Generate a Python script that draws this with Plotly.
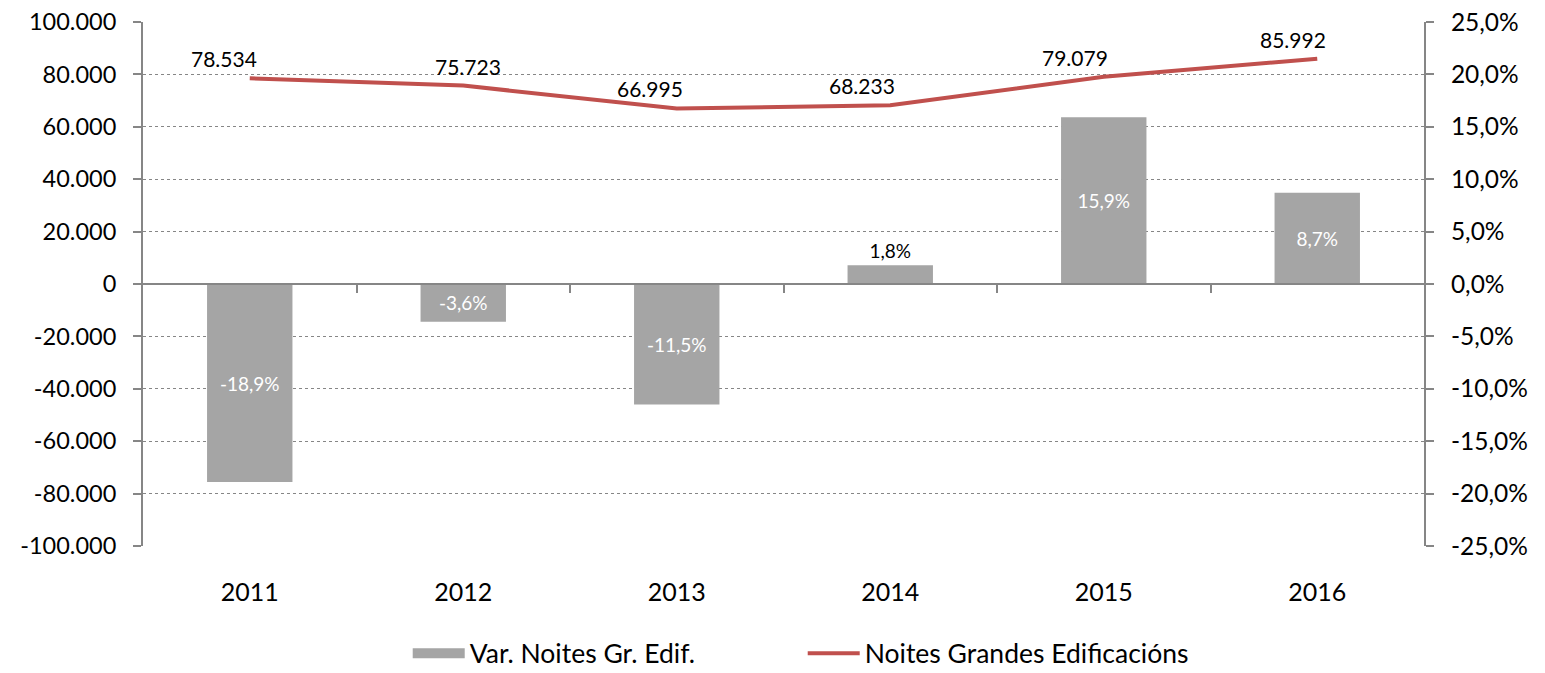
import plotly.graph_objects as go

years = ["2011", "2012", "2013", "2014", "2015", "2016"]
var_pct = [-0.189, -0.036, -0.115, 0.018, 0.159, 0.087]
noites = [78534, 75723, 66995, 68233, 79079, 85992]

left_ticks = list(range(-100000, 100001, 20000))
right_ticks = [v / 100 for v in range(-25, 26, 5)]

# style
label_xshift = [-26, 5, -27, -28, -29, -24]
bar_textpos = ["inside", "inside", "inside", "outside", "inside", "inside"]
bar_textcol = ["white", "white", "white", "black", "white", "white"]

FONT = "Lato"
GRAY = "#868686"
BAR_COLOR = "#A5A5A5"


def thousands(v):
    return f"{v:,.0f}".replace(",", ".")


def pct(v):
    return f"{v * 100:.1f}%".replace(".", ",")


xs = list(range(len(years)))

fig = go.Figure()
fig.add_trace(go.Bar(
    x=xs, y=var_pct, yaxis="y2", name="Var. Noites Gr. Edif.", showlegend=False,
    marker=dict(color=BAR_COLOR, line=dict(width=0)), width=0.4,
    text=[pct(v) for v in var_pct], textposition=bar_textpos, insidetextanchor="middle",
    textfont=dict(color=bar_textcol, size=19, family=FONT), constraintext="none",
    cliponaxis=False,
))
# legend swatch for the bars (wide block like the original)
fig.add_trace(go.Scatter(x=[None], y=[None], yaxis="y2", name="Var. Noites Gr. Edif.",
                         mode="lines", line=dict(color=BAR_COLOR, width=16)))
fig.add_trace(go.Scatter(
    x=xs, y=noites, yaxis="y", name="Noites Grandes Edificacións",
    mode="lines", line=dict(color="#C0504D", width=4),
))
# invisible helper so the zero-crossing axis is drawn
fig.add_trace(go.Scatter(x=[xs[0], xs[-1]], y=[0, 0], xaxis="x2", yaxis="y",
                         mode="markers", marker=dict(opacity=0), showlegend=False,
                         hoverinfo="skip"))

for x, v, dx in zip(xs, noites, label_xshift):
    fig.add_annotation(x=x, y=v, xref="x", yref="y", text=thousands(v),
                       showarrow=False, yanchor="bottom", xshift=dx, yshift=5,
                       font=dict(size=21, family=FONT, color="black"))

xr = [-0.5, len(years) - 0.5]
fig.update_layout(
    width=1545, height=673,
    margin=dict(l=143, r=121, t=22, b=127, autoexpand=False),
    plot_bgcolor="white", paper_bgcolor="white",
    font=dict(family=FONT, size=24, color="black"),
    xaxis=dict(range=xr, tickvals=xs, ticktext=years, showline=False, showgrid=False,
               zeroline=False, ticks="outside", ticklen=0, ticklabelstandoff=24,
               tickfont=dict(size=25), automargin=False),
    xaxis2=dict(overlaying="x", anchor="free", position=0.5, range=xr,
                showline=True, linecolor=GRAY, linewidth=2, showgrid=False, zeroline=False,
                tickvals=[i + 0.5 for i in range(len(years) - 1)], ticks="outside",
                ticklen=8, tickcolor=GRAY, tickwidth=2, showticklabels=False,
                automargin=False),
    yaxis=dict(range=[-100000, 100000], tickvals=left_ticks,
               ticktext=[thousands(v) for v in left_ticks],
               showline=True, linecolor=GRAY, linewidth=2, ticks="outside", ticklen=8,
               tickcolor=GRAY, tickwidth=2, showgrid=True, gridcolor=GRAY, griddash="dot",
               gridwidth=1, zeroline=False, ticklabelstandoff=12, tickfont=dict(size=23.5),
               automargin=False),
    yaxis2=dict(range=[-0.25, 0.25], tickvals=right_ticks,
                ticktext=[pct(v) for v in right_ticks], overlaying="y", side="right",
                showline=True, linecolor=GRAY, linewidth=2, ticks="outside", ticklen=8,
                tickcolor=GRAY, tickwidth=2, showgrid=False, zeroline=False,
                ticklabelstandoff=12, tickfont=dict(size=24.5), automargin=False),
    legend=dict(orientation="h", x=0.515, xanchor="center", y=-0.205, yanchor="middle",
                font=dict(size=26.5), entrywidth=328, entrywidthmode="pixels", itemwidth=52),
    showlegend=True,
)

fig.write_html(
    "out.html",
    config={"displayModeBar": False},
    post_script="document.body.style.margin='0';document.body.style.overflow='hidden';",
)
